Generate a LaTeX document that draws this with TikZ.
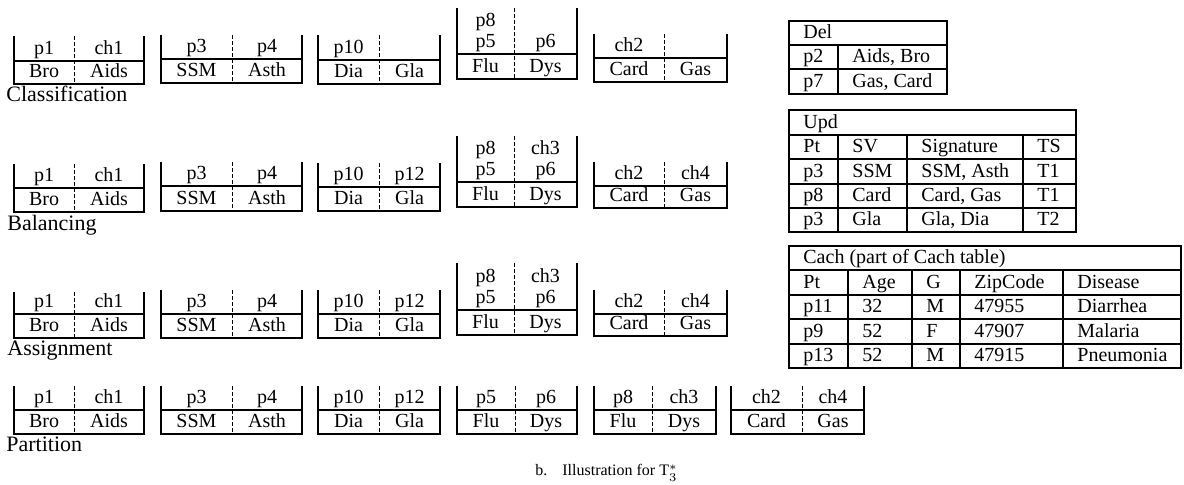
\documentclass[tikz,border=0pt]{standalone}
\usepackage{fontspec}
\setmainfont{Liberation Serif}

\begin{document}
\begin{tikzpicture}[x=0.5pt,y=-0.5pt,
    wall/.style={line width=1pt},
    divider/.style={line width=0.5pt,dash pattern=on 2pt off 1pt},
    cell/.style={anchor=base,inner sep=0pt,font=\fontsize{10}{12}\selectfont},
    tcell/.style={anchor=base west,inner sep=0pt,font=\fontsize{10}{12}\selectfont},
    rowlabel/.style={anchor=base west,inner sep=0pt,font=\fontsize{11}{13}\selectfont}]
  \useasboundingbox (0,0) rectangle (1184,485);

  % buckets: left / divider / right, top / middle / bottom, upper texts, lower texts
  \foreach \xa/\xd/\xb/\yt/\ym/\yb/\ua/\ub/\la/\lb [count=\n] in {
      14/74/144/36/61/84/p1/ch1/Bro/Aids,
      161/232/302/35/59/83/p3/p4/SSM/Asth,
      318/379/440/35/60/84/p10/{}/Dia/Gla,
      457/514/577/8/54/79/p5/p6/Flu/Dys,
      594/664/727/34/58/82/ch2/{}/Card/Gas,
      14/74/144/164/188/212/p1/ch1/Bro/Aids,
      161/232/302/162/186/211/p3/p4/SSM/Asth,
      318/379/440/163/187/211/p10/p12/Dia/Gla,
      457/514/577/136/182/207/p5/p6/Flu/Dys,
      594/664/727/162/186/208/ch2/ch4/Card/Gas,
      14/74/144/292/314/338/p1/ch1/Bro/Aids,
      161/232/302/290/314/338/p3/p4/SSM/Asth,
      318/379/440/290/314/338/p10/p12/Dia/Gla,
      457/514/577/263/310/335/p5/p6/Flu/Dys,
      594/664/727/290/314/336/ch2/ch4/Card/Gas,
      14/74/144/386/410/434/p1/ch1/Bro/Aids,
      161/232/302/386/410/434/p3/p4/SSM/Asth,
      318/379/440/386/410/434/p10/p12/Dia/Gla,
      457/515/577/386/410/434/p5/p6/Flu/Dys,
      594/652/716/386/410/434/p8/ch3/Flu/Dys,
      731/802/864/386/410/434/ch2/ch4/Card/Gas} {
    \draw[wall] (\xa,\yt) |- (\xb,\yb) -- (\xb,\yt);
    \draw[wall] (\xa,\ym) -- (\xb,\ym);
    \draw[divider] (\xd,\yt) -- (\xd,\yb);
    \node[cell] (bk\n-ua) at ({(\xa+\xd)/2},\ym-6) {\ua};
    \node[cell] (bk\n-ub) at ({(\xd+\xb)/2},\ym-6) {\ub};
    \node[cell] (bk\n-la) at ({(\xa+\xd)/2},\yb-6) {\la};
    \node[cell] (bk\n-lb) at ({(\xd+\xb)/2},\yb-6) {\lb};
  }
  % second line in the Flu buckets
  \foreach \ym/\a/\b [count=\k] in {54/p8/{},182/p8/ch3,310/p8/ch3} {
    \node[cell] (flu\k-a) at (485.5,\ym-27) {\a};
    \node[cell] (flu\k-b) at (545.5,\ym-27) {\b};
  }

  \node[rowlabel] (classif) at (6,102) {Classification};
  \node[rowlabel] (balanc) at (7,231) {Balancing};
  \node[rowlabel] (assign) at (7,356) {Assignment};
  \node[rowlabel] (partit) at (6,452) {Partition};

  % Del table
  \draw[wall] (789,21) rectangle (947,94);
  \foreach \y in {45,69} \draw[wall] (789,\y) -- (947,\y);
  \draw[wall] (838,45) -- (838,94);
  \node[tcell] (del) at (803,39) {Del};
  \foreach \y/\a/\b [count=\r] in {63/p2/{Aids, Bro},88/p7/{Gas, Card}} {
    \node[tcell] (del-\r-a) at (803,\y) {\a};
    \node[tcell] (del-\r-b) at (852,\y) {\b};
  }

  % Upd table
  \draw[wall] (789,110) rectangle (1076,232);
  \foreach \y in {135,159,184,208} \draw[wall] (789,\y) -- (1076,\y);
  \foreach \x in {838,907,1023} \draw[wall] (\x,135) -- (\x,232);
  \node[tcell] (upd) at (803,129) {Upd};
  \foreach \y/\a/\b/\c/\d [count=\r] in {153/Pt/SV/Signature/TS,
      178/p3/SSM/{SSM, Asth}/T1,202/p8/Card/{Card, Gas}/T1,226/p3/Gla/{Gla, Dia}/T2} {
    \node[tcell] (upd-\r-a) at (803,\y) {\a};
    \node[tcell] (upd-\r-b) at (852,\y) {\b};
    \node[tcell] (upd-\r-c) at (921,\y) {\c};
    \node[tcell] (upd-\r-d) at (1037,\y) {\d};
  }

  % Cach table
  \draw[wall] (789,246) rectangle (1181,368);
  \foreach \y in {270,295,319,344} \draw[wall] (789,\y) -- (1181,\y);
  \foreach \x in {848,912,960,1063} \draw[wall] (\x,270) -- (\x,368);
  \node[tcell] (cach) at (803,264) {Cach (part of Cach table)};
  \foreach \y/\a/\b/\c/\d/\e [count=\r] in {289/Pt/Age/G/ZipCode/Disease,
      313/p11/32/M/47955/Diarrhea,338/p9/52/F/47907/Malaria,
      362/p13/52/M/47915/Pneumonia} {
    \node[tcell] (cach-\r-a) at (803,\y) {\a};
    \node[tcell] (cach-\r-b) at (862,\y) {\b};
    \node[tcell] (cach-\r-c) at (926,\y) {\c};
    \node[tcell] (cach-\r-d) at (974,\y) {\d};
    \node[tcell] (cach-\r-e) at (1077,\y) {\e};
  }

  \node[anchor=base west,inner sep=0pt,font=\fontsize{8}{10}\selectfont] (capb) at (535,476) {b.};
  \node[anchor=base west,inner sep=0pt,font=\fontsize{8}{10}\selectfont] (capt) at (562,476)
    {Illustration for T$_3^*$};
\end{tikzpicture}
\end{document}
